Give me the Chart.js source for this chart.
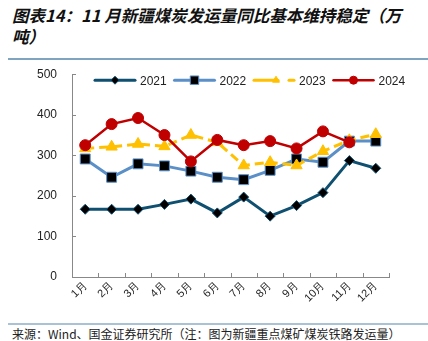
<!DOCTYPE html>
<html>
<head>
<meta charset="utf-8">
<script src="https://cdn.jsdelivr.net/npm/chart.js@4.4.1/dist/chart.umd.min.js"></script>
<style>
  body { margin: 0; background: #fff; }
  #wrap { position: relative; width: 428px; height: 341px; overflow: hidden; }
  #title { position: absolute; left: 12px; top: 5px; font-family: "Noto Sans CJK SC", sans-serif; font-style: italic; font-weight: bold; font-size: 16.5px; line-height: 21px; color: #111; }
  #topRule { position: absolute; left: 8px; right: 0; top: 58px; height: 2px; background: #7fa4c0; }
  #botRule { position: absolute; left: 8px; right: 0; top: 323px; height: 2px; background: #a9c2d6; }
  #source { position: absolute; left: 12px; top: 325px; font-family: "Noto Sans CJK SC", sans-serif; font-size: 12px; color: #222; white-space: nowrap; }
  #box { position: absolute; left: 0; top: 60px; width: 428px; height: 262px; }
</style>
</head>
<body>
<div id="wrap">
  <div id="title">图表14：11 月新疆煤炭发运量同比基本维持稳定（万<br>吨）</div>
  <div id="topRule"></div>
  <div id="box"><canvas id="chart" width="428" height="262"></canvas></div>
  <div id="botRule"></div>
  <div id="source">来源：Wind、国金证券研究所（注：图为新疆重点煤矿煤炭铁路发运量）</div>
</div>
<script>
const months = ["1月","2月","3月","4月","5月","6月","7月","8月","9月","10月","11月","12月"];
const y2021 = [167, 167, 167, 179, 192, 158, 197, 150, 176, 208, 287, 268];
const y2022 = [291, 246, 279, 274, 261, 246, 240, 263, 291, 283, 335, 335];
const y2023 = [317, 321, 328, 322, 350, 332, 275, 283, 275, 310, 337, 352];
const y2024 = [325, 377, 392, 350, 285, 338, 325, 335, 317, 359, 332, null];
const yTicks = [0, 100, 200, 300, 400, 500];

// ticks drawn inward and a line+marker legend like the original
const axisLook = {
  id: "axisLook",
  afterDatasetsDraw(chart) {
    const { ctx, chartArea: a, scales: { y } } = chart;
    ctx.save();
    ctx.strokeStyle = "#888";
    ctx.lineWidth = 1;
    ctx.beginPath();
    yTicks.forEach(v => {
      const py = Math.round(y.getPixelForValue(v)) + 0.5;
      ctx.moveTo(a.left, py); ctx.lineTo(a.left + 4, py);
    });
    const step = (a.right - a.left) / months.length;
    for (let i = 1; i <= months.length; i++) {
      const px = Math.round(a.left + step * i) + 0.5;
      ctx.moveTo(px, a.bottom); ctx.lineTo(px, a.bottom - 4);
    }
    ctx.stroke();

    // legend
    const ly = a.top + 6;
    let lx = a.left + 23;
    [0, 1, 2, 3].forEach(i => {
      const ds = chart.data.datasets.find(d => d.idx === i);
      ctx.save();
      ctx.strokeStyle = ds.borderColor;
      ctx.lineWidth = ds.borderWidth;
      ctx.lineCap = "round";
      if (ds.borderDash) {
        ctx.beginPath(); ctx.moveTo(lx, ly); ctx.lineTo(lx + 24, ly); ctx.stroke();
        ctx.beginPath(); ctx.moveTo(lx + 35, ly); ctx.lineTo(lx + 40, ly); ctx.stroke();
      } else {
        ctx.beginPath(); ctx.moveTo(lx, ly); ctx.lineTo(lx + 40, ly); ctx.stroke();
      }
      ctx.restore();
      ctx.save();
      ctx.fillStyle = ds.pointBackgroundColor;
      ctx.strokeStyle = ds.pointBorderColor;
      ctx.lineWidth = ds.pointBorderWidth;
      Chart.helpers.drawPoint(ctx, {
        pointStyle: ds.pointStyle, radius: ds.legendRadius, rotation: 0,
        borderWidth: ds.pointBorderWidth
      }, ds.borderDash ? lx + 22 : lx + 20, ly);
      ctx.restore();
      ctx.fillStyle = "#222";
      ctx.font = "12px 'Liberation Sans', Arial, sans-serif";
      ctx.textBaseline = "middle";
      ctx.fillText(ds.label, lx + 45, ly + 1);
      lx += 79.5;
    });
    ctx.restore();
  }
};

const chart = new Chart(document.getElementById("chart"), {
  type: "line",
  data: {
    labels: months,
    datasets: [
      { idx: 0, label: "2021", data: y2021, order: 3, borderColor: "#0f4f70", borderWidth: 3,
        pointStyle: "rectRot", pointRadius: 5, legendRadius: 4, pointBackgroundColor: "#000", pointBorderColor: "#0f4f70", pointBorderWidth: 1 },
      { idx: 1, label: "2022", data: y2022, order: 2, borderColor: "#5a8fc8", borderWidth: 3,
        pointStyle: "rect", pointRadius: 7, legendRadius: 6, pointBackgroundColor: "#000", pointBorderColor: "#5a8fc8", pointBorderWidth: 1 },
      { idx: 2, label: "2023", data: y2023, order: 1, borderColor: "#ffc000", borderWidth: 3, borderDash: [9, 5],
        pointStyle: "triangle", pointRadius: 6.5, legendRadius: 4, pointBackgroundColor: "#ffc000", pointBorderColor: "#ffc000", pointBorderWidth: 1 },
      { idx: 3, label: "2024", data: y2024, order: 0, borderColor: "#c00000", borderWidth: 2.5,
        pointStyle: "circle", pointRadius: 5.5, legendRadius: 4, pointBackgroundColor: "#c00000", pointBorderColor: "#c00000", pointBorderWidth: 1 }
    ]
  },
  options: {
    responsive: false,
    animation: false,
    devicePixelRatio: 1,
    layout: { padding: { top: 14, right: 39, left: 0, bottom: 0 } },
    plugins: { legend: { display: false }, tooltip: { enabled: false } },
    elements: { line: { tension: 0 }, point: { hoverRadius: 5 } },
    scales: {
      x: {
        offset: true,
        grid: { display: false, tickLength: 2 },
        border: { color: "#888", width: 1 },
        ticks: { color: "#222", autoSkip: false, font: { size: 11, family: "'Liberation Sans', Arial, sans-serif" }, minRotation: 45, maxRotation: 45, padding: 0 },
        afterFit(s) { s.height = 45; }
      },
      y: {
        min: 0, max: 500,
        afterBuildTicks(s) { s.ticks = yTicks.map(v => ({ value: v })); },
        grid: { display: false },
        border: { color: "#888", width: 1 },
        ticks: { color: "#222", font: { size: 12, family: "'Liberation Sans', Arial, sans-serif" }, padding: 7 },
        afterFit(s) { s.width = 72; }
      }
    }
  },
  plugins: [axisLook]
});
</script>
</body>
</html>
